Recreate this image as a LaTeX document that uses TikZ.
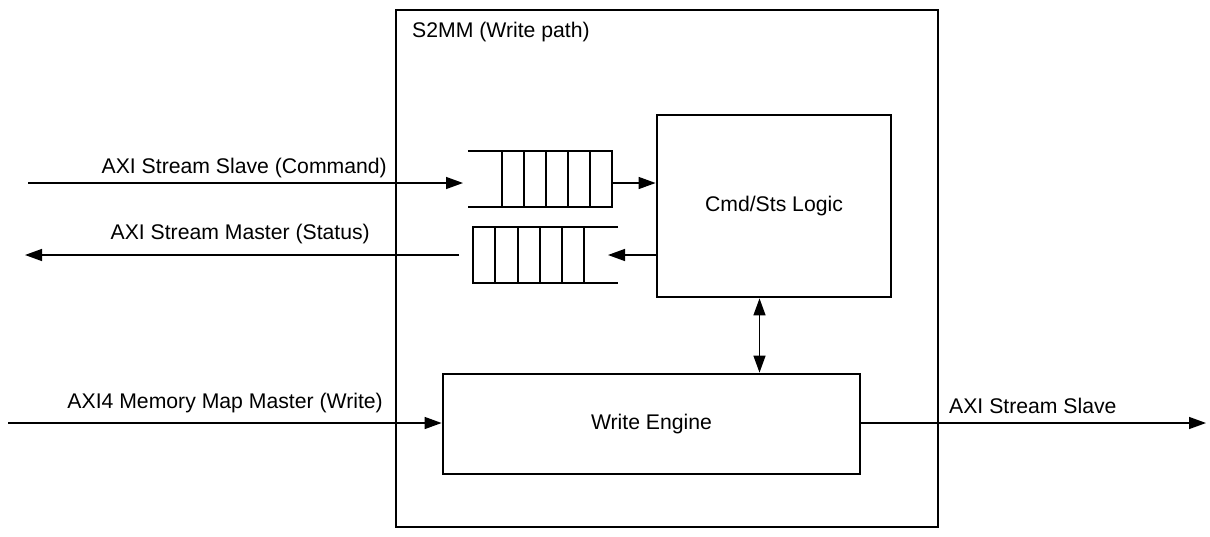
\documentclass[tikz,border=0pt]{standalone}
\usepackage{fontspec}
\setmainfont{Liberation Sans}
\usetikzlibrary{arrows.meta}
\begin{document}
\begin{tikzpicture}[x=1pt,y=-1pt,
  blk/.style={draw,line width=2.8pt,inner sep=0pt},
  fifobox/.style={inner sep=0pt,minimum width=144pt,minimum height=56pt},
  fl/.style={line width=2pt},
  arr/.style={line width=1.4pt,-{Triangle[length=17pt,width=12pt]}},
  darr/.style={line width=1.4pt,{Triangle[length=17pt,width=12pt]}-{Triangle[length=17pt,width=12pt]}},
  lbl/.style={font=\fontsize{21.2}{25}\selectfont,inner sep=0pt}]
\useasboundingbox (0,0) rectangle (1210,536);
% blocks
\node[blk,minimum width=542pt,minimum height=517pt] (s2mm) at (667,268.5) {};
\node[lbl,anchor=base west] (s2mmlbl) at (412,37) {S2MM (Write path)};
\node[blk,minimum width=234pt,minimum height=182pt] (cmd) at (774,206) {};
\node[lbl] (cmdlbl) at (cmd.center) {Cmd/Sts Logic};
\node[blk,minimum width=417pt,minimum height=100pt] (we) at (651.5,424) {};
\node[lbl] (welbl) at (we.center) {Write Engine};
% fifos
\node[fifobox] (fifoA) at (540,179) {};
\draw[fl] (fifoA.north west) -- (fifoA.north east) -- (fifoA.south east) -- (fifoA.south west);
\foreach \x in {502,523.5,545.5,568,590} \draw[fl] (\x,151) -- (\x,207);
\node[fifobox,minimum width=145pt] (fifoB) at (545.5,255) {};
\draw[fl] (fifoB.north east) -- (fifoB.north west) -- (fifoB.south west) -- (fifoB.south east);
\foreach \x in {495,518,540,562,584} \draw[fl] (\x,227) -- (\x,283);
% connectors
\coordinate (cmdIn) at (28,183);
\coordinate (fifoAin) at (463,183);
\draw[arr] (cmdIn) -- (fifoAin);
\draw[arr] (fifoA.east |- cmdIn) -- (cmd.west |- cmdIn);
\coordinate (stsOut) at (25,255);
\coordinate (fifoBout) at (459,255);
\coordinate (fifoBin) at (608,255);
\draw[arr] (cmd.west |- fifoBin) -- (fifoBin);
\draw[arr] (fifoBout) -- (stsOut);
\draw[darr] (cmd.south -| 759.5,0) -- (we.north -| 759.5,0);
\coordinate (mmIn) at (8,423);
\draw[arr] (mmIn) -- (we.west |- mmIn);
\coordinate (ssOut) at (1206,423);
\draw[arr] (we.east |- ssOut) -- (ssOut);
% labels
\node[lbl,anchor=base east] (l1) at (387,173) {AXI Stream Slave (Command)};
\node[lbl,anchor=base east] (l2) at (370,239) {AXI Stream Master (Status)};
\node[lbl,anchor=base east] (l3) at (383,408) {AXI4 Memory Map Master (Write)};
\node[lbl,anchor=base west] (l4) at (949,413) {AXI Stream Slave};
\end{tikzpicture}
\end{document}
